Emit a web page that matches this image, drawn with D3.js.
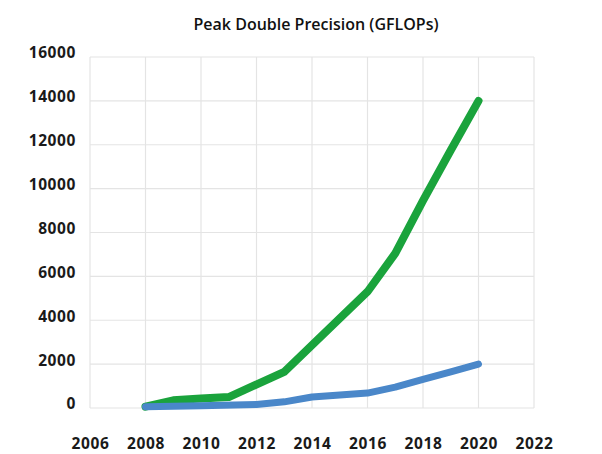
<!DOCTYPE html>
<html><head><meta charset="utf-8">
<script src="https://cdn.jsdelivr.net/npm/d3@7"></script>
<style>
html,body{margin:0;padding:0;background:#fff;}
svg{display:block;font-family:"Open Sans",sans-serif;}
</style></head>
<body><svg id="chart" width="602" height="454"></svg>
<script>
const title = "Peak Double Precision (GFLOPs)";
const xTicks = [2006, 2008, 2010, 2012, 2014, 2016, 2018, 2020, 2022];
const yTicks = [0, 2000, 4000, 6000, 8000, 10000, 12000, 14000, 16000];
const greenYears = [2008, 2009, 2010, 2011, 2013, 2016, 2017, 2018, 2019, 2020];
const greenValues = [60, 350, 430, 500, 1650, 5300, 7050, 9450, 11750, 14000];
const blueYears = [2008, 2010, 2012, 2013, 2014, 2016, 2017, 2018, 2019, 2020];
const blueValues = [60, 100, 160, 280, 500, 680, 950, 1300, 1650, 2000];

const svg = d3.select("#chart");
const x = d3.scaleLinear().domain([2006, 2022]).range([90, 534]);
const y = d3.scaleLinear().domain([0, 16000]).range([408, 57]);

svg.append("text").attr("x", 316).attr("y", 30).attr("text-anchor", "middle")
  .attr("font-size", 16).attr("font-weight", 600).attr("fill", "#111").text(title);

const grid = svg.append("g").attr("stroke", "#e4e4e4").attr("stroke-width", 1.2);
grid.selectAll(".gx").data(xTicks).join("line")
  .attr("x1", d => x(d)).attr("x2", d => x(d)).attr("y1", y(16000)).attr("y2", y(0));
grid.selectAll(".gy").data(yTicks).join("line")
  .attr("x1", x(2006)).attr("x2", x(2022)).attr("y1", d => y(d)).attr("y2", d => y(d));

const yAxis = svg.append("g").attr("transform", `translate(${x(2006) - 14},-4)`)
  .call(d3.axisLeft(y).tickValues(yTicks).tickFormat(d3.format("d")).tickSize(0).tickPadding(0));
const xAxis = svg.append("g").attr("transform", `translate(0,${y(0) + 30})`)
  .call(d3.axisBottom(x).tickValues(xTicks).tickFormat(d3.format("d")).tickSize(0).tickPadding(0));
[yAxis, xAxis].forEach(a => {
  a.select(".domain").remove();
  a.selectAll("text").attr("font-family", "'Open Sans',sans-serif").attr("font-size", 15.5)
    .attr("font-weight", 700).attr("fill", "#1a1a1a").attr("letter-spacing", 0.6);
});

const line = d3.line().x(d => x(d[0])).y(d => y(d[1]));
svg.append("path").datum(d3.zip(greenYears, greenValues)).attr("d", line)
  .attr("fill", "none").attr("stroke", "#1aa33c").attr("stroke-width", 8)
  .attr("stroke-linecap", "round").attr("stroke-linejoin", "round");
svg.append("path").datum(d3.zip(blueYears, blueValues)).attr("d", line)
  .attr("fill", "none").attr("stroke", "#4a87c9").attr("stroke-width", 7)
  .attr("stroke-linecap", "round").attr("stroke-linejoin", "round");
</script></body></html>
